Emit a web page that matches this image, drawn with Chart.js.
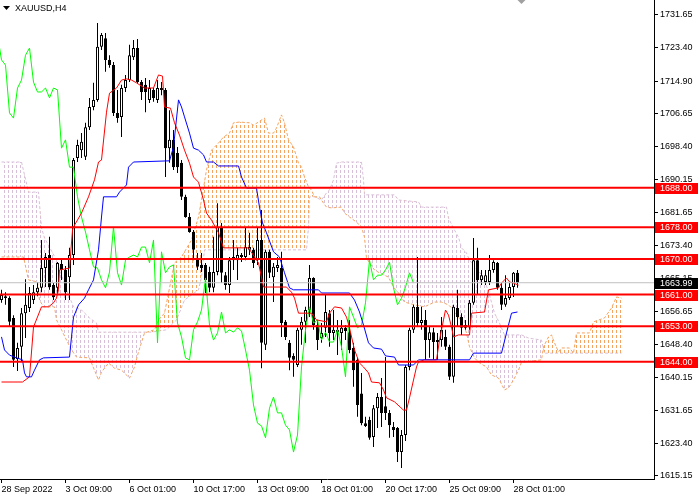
<!DOCTYPE html>
<html>
<head>
<meta charset="utf-8">
<title>XAUUSD,H4</title>
<script src="https://cdn.jsdelivr.net/npm/chart.js@4.4.0/dist/chart.umd.min.js"></script>
<style>
  html, body { margin: 0; padding: 0; background: #fff; }
  #wrap { width: 700px; height: 500px; }
</style>
</head>
<body>
<div id="wrap"><canvas id="chart" width="700" height="500"></canvas></div>
<script>
// XAUUSD H4 with Ichimoku

const FONT_FAMILY = '"Liberation Sans", Arial, sans-serif';

const timeTickBars = [0, 16, 32, 48, 64, 80, 96, 112, 128];
const timeLabels = ['28 Sep 2022', '3 Oct 09:00', '6 Oct 01:00', '10 Oct 17:00', '13 Oct 09:00',
  '18 Oct 01:00', '20 Oct 17:00', '25 Oct 09:00', '28 Oct 01:00'];
const priceTicks = [1731.65, 1723.40, 1714.90, 1706.65, 1698.40, 1690.15, 1681.65, 1673.40,
  1665.15, 1656.65, 1648.40, 1640.15, 1631.65, 1623.40, 1615.15];
const levels = [1688, 1678, 1670, 1661, 1653, 1644];
const lastPrice = 1663.99;
const chikouShift = 26;

const opens = [
  1659.6, 1660.6, 1660.1, 1655.1, 1644.7, 1647.8, 1656.3, 1657.6, 1659.6, 1661.6,
  1662.7, 1667.7, 1671.0, 1663.4, 1662.7, 1668.7, 1667.2, 1665.4, 1671.0, 1695.5,
  1697.5, 1695.8, 1703.3, 1708.4, 1710.2, 1723.6, 1725.8, 1720.3, 1719.0, 1706.9,
  1705.9, 1713.2, 1715.2, 1721.0, 1723.3, 1714.7, 1714.0, 1710.2, 1712.7, 1710.2,
  1713.2, 1712.7, 1698.0, 1700.1, 1696.8, 1694.3, 1685.7, 1680.6, 1676.8, 1670.2,
  1668.5, 1668.5, 1666.7, 1662.7, 1666.7, 1678.1, 1665.9, 1663.4, 1669.7, 1669.7,
  1671.0, 1670.5, 1672.3, 1672.3, 1669.7, 1674.8, 1648.3, 1671.8, 1665.4, 1667.7,
  1667.7, 1654.1, 1648.8, 1645.5, 1643.2, 1652.1, 1654.1, 1657.1, 1665.2, 1653.3,
  1650.0, 1652.6, 1656.3, 1651.3, 1652.1, 1651.3, 1652.6, 1651.5, 1647.5, 1644.5,
  1636.0, 1628.5, 1629.3, 1625.0, 1632.3, 1635.1, 1632.8, 1631.1, 1627.5, 1627.3,
  1621.2, 1625.5, 1642.7, 1652.1, 1657.9, 1653.8, 1654.6, 1649.5, 1651.5, 1649.5,
  1649.5, 1650.3, 1647.8, 1640.2, 1657.6, 1655.3, 1652.6, 1652.8, 1658.9, 1669.7,
  1664.7, 1664.2, 1664.2, 1667.2, 1669.0, 1662.7, 1658.4, 1660.1, 1662.9, 1666.5
];
const highs = [
  1662.2, 1661.6, 1660.6, 1655.8, 1648.8, 1657.6, 1664.9, 1662.9, 1663.4, 1664.2,
  1674.8, 1671.5, 1675.6, 1663.9, 1669.2, 1670.2, 1668.2, 1672.8, 1695.5, 1700.1,
  1701.8, 1704.4, 1710.7, 1714.5, 1729.6, 1727.1, 1727.1, 1721.5, 1719.8, 1712.7,
  1714.0, 1716.5, 1724.1, 1725.3, 1725.6, 1715.2, 1715.7, 1715.2, 1713.2, 1715.2,
  1714.7, 1713.2, 1707.6, 1702.6, 1698.3, 1695.0, 1686.2, 1681.6, 1677.3, 1671.5,
  1671.5, 1669.0, 1668.0, 1675.6, 1684.1, 1679.1, 1666.7, 1670.5, 1674.8, 1672.8,
  1671.5, 1678.1, 1676.6, 1672.8, 1677.8, 1682.4, 1672.3, 1672.3, 1669.0, 1670.5,
  1671.8, 1654.6, 1649.5, 1646.2, 1652.6, 1655.3, 1657.9, 1668.5, 1665.4, 1654.6,
  1653.8, 1660.9, 1657.1, 1657.1, 1654.6, 1654.6, 1653.3, 1654.6, 1648.8, 1645.0,
  1641.2, 1630.1, 1630.1, 1633.1, 1636.1, 1639.9, 1645.2, 1631.8, 1628.8, 1627.5,
  1626.8, 1643.2, 1652.6, 1658.4, 1670.5, 1657.9, 1657.1, 1652.8, 1652.6, 1651.3,
  1655.3, 1652.1, 1648.3, 1658.4, 1662.2, 1656.3, 1654.6, 1659.6, 1675.3, 1672.8,
  1667.2, 1667.2, 1671.0, 1669.7, 1669.2, 1663.9, 1665.9, 1663.9, 1666.7, 1667.2
];
const lows = [
  1658.9, 1658.4, 1652.8, 1642.7, 1641.7, 1644.0, 1650.0, 1656.6, 1658.6, 1660.6,
  1661.6, 1662.9, 1662.2, 1659.6, 1660.9, 1664.7, 1659.6, 1659.6, 1668.5, 1694.5,
  1695.5, 1695.0, 1702.6, 1707.6, 1709.7, 1722.8, 1717.3, 1718.3, 1706.1, 1704.4,
  1700.8, 1712.2, 1714.7, 1720.3, 1714.2, 1710.2, 1707.1, 1709.4, 1709.7, 1709.4,
  1711.4, 1690.7, 1694.3, 1692.5, 1691.7, 1684.9, 1680.4, 1676.6, 1669.7, 1667.2,
  1666.7, 1661.4, 1661.6, 1661.6, 1665.9, 1663.9, 1662.2, 1661.4, 1667.2, 1664.7,
  1669.2, 1669.7, 1671.0, 1667.7, 1668.5, 1642.4, 1647.0, 1665.2, 1659.1, 1666.7,
  1650.3, 1649.5, 1641.9, 1640.2, 1642.7, 1648.3, 1648.8, 1655.3, 1652.1, 1647.0,
  1648.8, 1650.3, 1647.8, 1649.5, 1645.7, 1647.0, 1649.5, 1646.2, 1637.7, 1630.1,
  1628.0, 1627.5, 1624.3, 1622.5, 1627.3, 1627.5, 1629.3, 1624.8, 1625.0, 1618.7,
  1617.2, 1624.0, 1641.9, 1651.3, 1652.8, 1652.1, 1644.5, 1645.0, 1644.5, 1644.5,
  1647.8, 1647.0, 1639.4, 1638.7, 1652.8, 1650.8, 1652.1, 1652.1, 1658.4, 1660.9,
  1663.4, 1663.4, 1663.4, 1666.5, 1662.2, 1657.1, 1657.9, 1659.6, 1660.4, 1662.7
];
const closes = [
  1660.9, 1660.1, 1654.1, 1644.5, 1647.5, 1656.3, 1658.4, 1661.4, 1661.6, 1662.7,
  1667.7, 1670.5, 1662.9, 1660.4, 1669.0, 1667.2, 1661.6, 1671.0, 1695.0, 1698.8,
  1699.6, 1703.3, 1708.4, 1710.2, 1723.6, 1726.6, 1720.3, 1719.0, 1706.9, 1705.6,
  1713.2, 1715.2, 1721.5, 1723.3, 1714.7, 1712.2, 1712.2, 1713.2, 1710.7, 1713.2,
  1712.7, 1698.0, 1700.1, 1693.2, 1693.2, 1685.7, 1680.6, 1676.8, 1672.3, 1668.0,
  1667.7, 1664.7, 1662.7, 1666.7, 1678.1, 1666.5, 1663.4, 1669.7, 1670.5, 1671.0,
  1670.5, 1673.0, 1673.0, 1669.0, 1674.8, 1648.8, 1671.8, 1666.5, 1668.0, 1668.5,
  1653.8, 1650.3, 1645.0, 1644.5, 1652.1, 1654.1, 1657.1, 1665.2, 1653.3, 1649.5,
  1651.3, 1656.6, 1651.3, 1652.1, 1651.5, 1652.6, 1651.8, 1647.0, 1641.9, 1633.1,
  1628.5, 1627.8, 1624.8, 1632.3, 1635.1, 1631.1, 1631.1, 1628.0, 1626.8, 1621.2,
  1625.5, 1642.7, 1652.1, 1657.9, 1653.8, 1654.6, 1649.5, 1651.5, 1649.0, 1649.0,
  1652.1, 1647.8, 1640.2, 1657.9, 1655.3, 1652.6, 1653.3, 1658.9, 1669.7, 1664.7,
  1665.9, 1665.9, 1667.2, 1669.2, 1662.7, 1658.4, 1660.1, 1662.9, 1666.5, 1663.99
];

// Tenkan-sen (red), read at its breakpoints: bar position / price
const tenkanBars = [0, 5.25, 7, 8, 10, 11.75, 13, 13.75, 14.25, 14.5, 17, 17.75, 18, 20, 21.75, 23.25,
  24.25, 25, 26.25, 27, 28.75, 30, 31.25, 32.5, 33.75, 35.75, 38, 39.25, 40.25, 40.75, 42.25, 43.25,
  44.5, 45.75, 47, 48, 49.25, 50.5, 51.25, 52.5, 54.25, 55.5, 61.75, 64.25, 65.5, 71.25, 72.5, 73.25,
  74.25, 77.5, 78.75, 81.25, 82, 83.25, 85, 86.25, 87, 88.25, 89.5, 90.5, 91.75, 92.5, 94.5, 95.5,
  96.25, 98.25, 100.5, 101.25, 102, 103, 103.75, 104.25, 105.75, 108.75, 109.5, 110.5, 111, 111.75,
  112.5, 113, 114.25, 117, 117.5, 120.75, 121.75, 124.25, 125, 126.25, 127, 128, 129.25];
const tenkanValues = [1638.9, 1638.9, 1640.2, 1652.8, 1657.9, 1657.9, 1658.9, 1660.1, 1662.2, 1667.2,
  1667.7, 1677.3, 1678.1, 1681.6, 1685.7, 1690.0, 1694.5, 1695.0, 1707.1, 1711.9, 1713.2, 1715.2,
  1715.5, 1715.2, 1714.5, 1713.2, 1713.2, 1716.5, 1716.2, 1708.4, 1708.1, 1704.4, 1701.3, 1697.5,
  1694.2, 1690.7, 1689.4, 1684.9, 1681.6, 1679.8, 1676.6, 1672.8, 1672.8, 1669.0, 1662.9, 1662.9,
  1661.6, 1660.1, 1656.3, 1656.3, 1654.6, 1654.1, 1656.3, 1657.9, 1657.6, 1655.3, 1652.6, 1647.0,
  1643.7, 1642.7, 1641.2, 1638.9, 1638.7, 1636.9, 1634.9, 1633.9, 1631.8, 1631.8, 1634.9, 1639.4,
  1642.7, 1644.0, 1644.5, 1644.5, 1649.5, 1654.6, 1657.1, 1655.8, 1652.8, 1650.3, 1650.8, 1650.8,
  1656.3, 1656.6, 1662.2, 1662.7, 1663.9, 1665.2, 1664.2, 1663.9, 1663.4];

// Kijun-sen (blue)
const kijunBars = [0, 0.75, 2, 3.75, 5.25, 5.75, 6.25, 7.5, 8.25, 9.5, 10.5, 17, 17.5, 18, 19.25, 20.75,
  21.75, 23, 24.25, 25, 25.5, 28.75, 29.5, 31.25, 31.75, 33, 42, 43, 44.25, 45, 45.75, 47, 48, 49.25,
  50.5, 51.25, 53, 54.25, 59.25, 60, 61.25, 63.75, 64.5, 65.25, 66.25, 68, 69.5, 70.75, 72, 73, 79.25,
  80, 87, 88.25, 89.5, 90.5, 91.75, 93, 95, 96, 98.25, 99.25, 103, 104.25, 117, 118, 125, 126.25,
  127.5, 129];
const kijunValues = [1650.3, 1647.0, 1645.7, 1645.0, 1644.5, 1641.2, 1640.2, 1640.2, 1641.9, 1644.5,
  1645.0, 1645.2, 1650.3, 1655.3, 1658.4, 1660.1, 1662.2, 1664.7, 1672.3, 1680.6, 1685.7, 1685.7,
  1686.9, 1688.7, 1693.2, 1694.5, 1694.8, 1698.3, 1710.2, 1708.4, 1705.9, 1701.8, 1698.0, 1697.5,
  1696.3, 1694.5, 1694.5, 1693.5, 1693.5, 1690.7, 1687.9, 1687.9, 1683.1, 1679.1, 1676.6, 1671.8,
  1670.5, 1666.5, 1662.7, 1662.2, 1662.2, 1661.4, 1661.4, 1659.6, 1656.6, 1653.3, 1648.8, 1647.5,
  1647.2, 1645.5, 1645.2, 1643.2, 1643.2, 1644.5, 1644.5, 1646.2, 1646.2, 1651.3, 1656.3, 1656.6];

// Senkou Span A (sandy brown), already shifted forward as on the chart
const spanABars = [0, 5.5, 6.75, 9, 9.5, 10.5, 13.25, 13.75, 15, 16.25, 17.5, 18.75, 22, 22.5, 24.25, 25,
  26.75, 28.25, 30, 32, 33.25, 34.25, 35.75, 38.25, 39.25, 40.75, 43.25, 45, 47.5, 49.25, 50, 51.25,
  52.5, 54.25, 55.5, 57, 58, 59.5, 62, 63, 65.75, 66.75, 68, 68.75, 70, 70.75, 71.75, 73, 74.25, 75,
  75.75, 76.75, 77.5, 78.25, 79.5, 80.5, 81.25, 82.5, 85, 85.75, 87, 88.75, 90, 90.75, 91.25, 92,
  93.25, 94.5, 96.75, 98, 99.25, 100.75, 103.25, 105.75, 108.25, 110, 111.75, 113, 114.25, 115.5,
  116.25, 117, 118.25, 119.5, 121.25, 122.5, 124.25, 125.75, 126.75, 128, 129.25, 130, 135, 135.5,
  136.75, 137.5, 138.25, 139.25, 140, 142, 143, 143.75, 147, 148, 150.75, 152.5, 153.75, 155];
const spanAValues = [1670.5, 1670.5, 1664.7, 1664.2, 1659.6, 1657.9, 1657.9, 1654.6, 1652.1, 1649.5,
  1647.0, 1645.2, 1645.0, 1643.7, 1639.4, 1641.4, 1643.7, 1642.4, 1641.9, 1639.9, 1642.7, 1646.5,
  1651.3, 1652.1, 1654.6, 1656.3, 1669.0, 1670.5, 1674.8, 1680.6, 1684.9, 1692.5, 1697.5, 1699.3,
  1700.8, 1701.8, 1704.4, 1704.6, 1704.4, 1703.8, 1705.6, 1701.8, 1701.8, 1703.1, 1706.4, 1704.4,
  1700.1, 1698.3, 1694.2, 1693.2, 1690.7, 1688.2, 1687.4, 1685.7, 1685.7, 1684.1, 1683.1, 1682.9,
  1683.1, 1681.6, 1680.6, 1679.3, 1678.1, 1675.5, 1670.2, 1669.0, 1667.2, 1666.5, 1665.4, 1662.9,
  1661.4, 1659.1, 1658.4, 1657.9, 1659.1, 1659.1, 1658.4, 1657.1, 1655.3, 1653.3, 1651.3, 1647.8,
  1645.0, 1643.7, 1642.7, 1640.7, 1639.9, 1636.9, 1637.4, 1639.4, 1641.9, 1643.9, 1644.5, 1647.8,
  1650.3, 1650.8, 1648.8, 1646.5, 1647.5, 1647.5, 1646.2, 1651.3, 1651.3, 1654.1, 1655.1, 1657.6,
  1660.4, 1660.1];

// Senkou Span B (thistle)
const spanBBars = [0, 5, 6.75, 9.25, 10, 10.75, 13.75, 16.25, 18, 20, 22, 23.75, 24.25, 37.5, 41.25,
  43.75, 45.75, 47.5, 49.25, 50, 50.75, 76.25, 76.75, 77, 78.25, 80, 81.25, 82, 83, 83.75, 85, 90,
  90.5, 90.75, 98.25, 99.25, 104.25, 105, 111.25, 111.75, 113.25, 114.25, 115, 116.25, 117, 118.25,
  119.5, 120.75, 122, 123.25, 124.5, 125.75, 130, 131.75, 135, 135.75, 155];
const spanBValues = [1694.5, 1694.5, 1686.9, 1686.9, 1677.8, 1675.3, 1669.7, 1662.2, 1657.9, 1657.1,
  1655.1, 1653.8, 1651.5, 1651.5, 1652.1, 1654.6, 1659.6, 1660.9, 1662.2, 1665.4, 1672.3, 1672.3,
  1678.1, 1685.7, 1685.7, 1684.9, 1686.7, 1687.4, 1690.0, 1694.2, 1694.5, 1694.5, 1690.0, 1686.2,
  1686.2, 1684.9, 1684.4, 1683.1, 1683.1, 1680.3, 1677.3, 1675.5, 1672.8, 1671.5, 1669.7, 1668.0,
  1666.7, 1664.7, 1660.9, 1656.3, 1653.8, 1650.8, 1650.8, 1650.0, 1649.5, 1646.2, 1646.2];

// Visible window
const xMin = -0.375;
const xMax = 163.125;
const yMin = 1614.39;
const yMax = 1735.44;

const toPoints = (xs, ys) => xs.map((x, i) => ({ x, y: ys[i] }));
const hline = v => [{ x: xMin, y: v }, { x: xMax, y: v }];

// vertical dotted hatch used by MT4 for the cloud
function hatch(color) {
  const c = document.createElement('canvas');
  c.width = 4;
  c.height = 5;
  const g = c.getContext('2d');
  g.fillStyle = color;
  g.fillRect(0, 0, 1, 3);
  return g.createPattern(c, 'repeat');
}

const lineBase = { type: 'line', borderWidth: 1, pointRadius: 0, tension: 0, fill: false };

const datasets = [
  {
    ...lineBase, label: 'Senkou Span B', data: toPoints(spanBBars, spanBValues),
    borderColor: '#D8BFD8', borderDash: [3, 2], order: 9
  },
  {
    ...lineBase, label: 'Senkou Span A', data: toPoints(spanABars, spanAValues),
    borderColor: '#F4A460', borderDash: [3, 2], order: 8,
    fill: { target: 0, above: hatch('#F4A460'), below: hatch('#D8BFD8') }
  },
  {
    type: 'bar', label: 'wicks', data: lows.map((l, i) => ({ x: i, y: [l, highs[i]] })),
    backgroundColor: '#000', borderWidth: 0, barThickness: 1, grouped: false,
    minBarLength: 1, inflateAmount: 0, order: 7
  },
  {
    type: 'bar', label: 'bodies', data: opens.map((o, i) => ({ x: i, y: [o, closes[i]] })),
    backgroundColor: ctx => (closes[ctx.dataIndex] >= opens[ctx.dataIndex] ? '#fff' : '#000'),
    borderColor: '#000', borderWidth: 1, borderSkipped: false, barThickness: 3, grouped: false,
    minBarLength: 1, inflateAmount: 0, order: 6
  },
  {
    ...lineBase, label: 'Chikou Span', data: closes.map((c, i) => ({ x: i - chikouShift, y: c })),
    borderColor: '#00FF00', order: 5
  },
  { ...lineBase, label: 'Tenkan-sen', data: toPoints(tenkanBars, tenkanValues), borderColor: '#FF0000', order: 4 },
  { ...lineBase, label: 'Kijun-sen', data: toPoints(kijunBars, kijunValues), borderColor: '#0000FF', order: 3 },
  { ...lineBase, label: 'Bid', data: hline(lastPrice), borderColor: '#C0C0C0', order: 2 }
];
levels.forEach(v => {
  datasets.push({ ...lineBase, label: 'level ' + v, data: hline(v), borderColor: '#FF0000', borderWidth: 2, order: 1 });
});

// price tags on the axis, symbol caption, shift marker
const overlay = {
  id: 'overlay',
  afterDraw(chart) {
    const { ctx, chartArea, scales: { x, y } } = chart;
    ctx.save();
    ctx.font = '9px ' + FONT_FAMILY;
    ctx.textBaseline = 'middle';
    ctx.textAlign = 'left';

    const tag = (v, bg) => {
      const py = Math.round(y.getPixelForValue(v));
      ctx.fillStyle = bg;
      ctx.fillRect(chartArea.right + 1, py - 5, 43, 11);
      ctx.fillStyle = '#fff';
      ctx.fillText(v.toFixed(2), chartArea.right + 6, py + 0.5);
    };
    levels.forEach(v => tag(v, '#FF0000'));
    tag(lastPrice, '#000');

    // caption
    ctx.fillStyle = '#000';
    ctx.beginPath();
    ctx.moveTo(3, 6);
    ctx.lineTo(10, 6);
    ctx.lineTo(6.5, 10);
    ctx.closePath();
    ctx.fill();
    ctx.fillText('XAUUSD,H4', 15, 8.5);

    // chart shift marker
    const sx = x.getPixelForValue(closes.length);
    ctx.fillStyle = '#A0A0A0';
    ctx.beginPath();
    ctx.moveTo(sx - 4, chartArea.top);
    ctx.lineTo(sx + 4, chartArea.top);
    ctx.lineTo(sx, chartArea.top + 4);
    ctx.closePath();
    ctx.fill();
    ctx.restore();
  }
};

new Chart(document.getElementById('chart').getContext('2d'), {
  type: 'bar',
  data: { datasets },
  options: {
    responsive: false,
    animation: false,
    devicePixelRatio: 1,
    events: [],
    layout: { padding: 0 },
    plugins: {
      legend: { display: false },
      tooltip: { enabled: false }
    },
    scales: {
      x: {
        type: 'linear',
        min: xMin,
        max: xMax,
        offset: false,
        afterBuildTicks: scale => {
          scale.ticks = timeTickBars.map(v => ({ value: v }));
        },
        afterFit: scale => {
          scale.height = 21;
          scale.paddingLeft = 0;
          scale.paddingRight = 0;
        },
        ticks: {
          autoSkip: false,
          maxRotation: 0,
          align: 'start',
          padding: 1,
          color: '#000',
          font: { family: FONT_FAMILY, size: 9 },
          callback: value => {
            const k = timeTickBars.indexOf(value);
            return k >= 0 ? timeLabels[k] : '';
          }
        },
        grid: { drawOnChartArea: false, drawTicks: true, tickLength: 4, color: '#000', offset: false },
        border: { color: '#000', width: 1 }
      },
      y: {
        type: 'linear',
        position: 'right',
        min: yMin,
        max: yMax,
        afterBuildTicks: scale => {
          scale.ticks = priceTicks.map(v => ({ value: v }));
        },
        afterFit: scale => {
          scale.width = 46;
          scale.paddingTop = 0;
          scale.paddingBottom = 0;
        },
        ticks: {
          padding: 2,
          color: '#000',
          font: { family: FONT_FAMILY, size: 9 },
          callback: value => Number(value).toFixed(2)
        },
        grid: { drawOnChartArea: false, drawTicks: true, tickLength: 4, color: '#000' },
        border: { color: '#000', width: 1 }
      }
    }
  },
  plugins: [overlay]
});
</script>
</body>
</html>
